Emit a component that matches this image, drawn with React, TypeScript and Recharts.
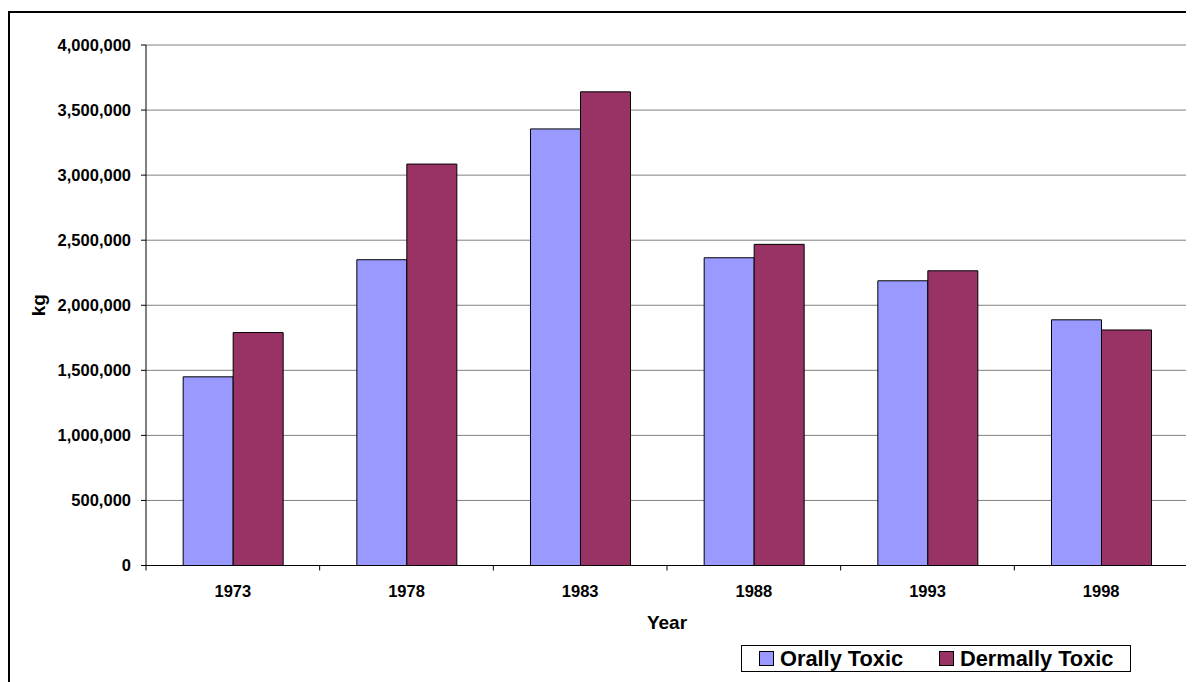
import React from "react";
import { BarChart, Bar, XAxis, YAxis, CartesianGrid, Legend } from "recharts";

const YEARS = ["1973", "1978", "1983", "1988", "1993", "1998"];
const ORALLY = [1450000, 2350000, 3355000, 2365000, 2188000, 1888000];
const DERMALLY = [1790000, 3085000, 3640000, 2468000, 2265000, 1810000];
const Y_TICKS = [0, 500000, 1000000, 1500000, 2000000, 2500000, 3000000, 3500000, 4000000];
const SERIES_NAMES = ["Orally Toxic", "Dermally Toxic"];
const COLORS = ["#9999FF", "#993366"];

const data = YEARS.map((year, i) => ({ year, orally: ORALLY[i], dermally: DERMALLY[i] }));

const FONT = '"Liberation Sans", Arial, sans-serif';

const XTick = (props: any) => {
  const { x, y, payload, index } = props;
  const half = payload && typeof payload.offset === "number" ? payload.offset : 0;
  return (
    <g>
      <line x1={x - half} x2={x - half} y1={y} y2={y + 5} stroke="#000" />
      {index === YEARS.length - 1 ? (
        <line x1={x + half} x2={x + half} y1={y} y2={y + 5} stroke="#000" />
      ) : null}
      <text x={x} y={y + 31.5} textAnchor="middle" fontFamily={FONT} fontWeight="bold" fontSize={16.5} fill="#000">
        {payload.value}
      </text>
    </g>
  );
};

const LegendContent = () => (
  <div
    style={{
      boxSizing: "border-box",
      width: 390,
      height: 27,
      border: "1px solid #000",
      background: "#fff",
      display: "flex",
      alignItems: "center",
      fontFamily: FONT,
      fontWeight: "bold",
      fontSize: 21.8,
      color: "#000",
      paddingLeft: 17,
    }}
  >
    {SERIES_NAMES.map((name, i) => (
      <div key={name} style={{ display: "flex", alignItems: "center", width: i === 0 ? 180 : undefined }}>
        <span
          style={{
            display: "inline-block",
            boxSizing: "border-box",
            width: 15,
            height: 15,
            background: COLORS[i],
            border: "1px solid #000",
            marginRight: 6,
          }}
        />
        <span style={{ lineHeight: "25px" }}>{name}</span>
      </div>
    ))}
  </div>
);

export default function App() {
  return (
    <div style={{ position: "relative", width: 1186, height: 674, overflow: "hidden", background: "#fff" }}>
      <div
        style={{
          position: "absolute",
          left: 0,
          top: 3,
          width: 1300,
          height: 800,
          border: "2px solid #000",
        }}
      />
      <div style={{ position: "absolute", left: 0, top: 0 }}>
        <BarChart
          width={1186}
          height={674}
          data={data}
          margin={{ top: 37, right: 6, left: 38, bottom: 59.5 }}
          barCategoryGap="21.4%"
          barGap={0}
        >
          <CartesianGrid vertical={false} stroke="#808080" strokeWidth={1} />
          <XAxis
            dataKey="year"
            height={30}
            tickLine={false}
            tickSize={0}
            tickMargin={0}
            axisLine={{ stroke: "#000" }}
            tick={<XTick />}
            interval={0}
            label={{
              content: (p: any) => (
                <text
                  x={p.viewBox.x + p.viewBox.width / 2}
                  y={p.viewBox.y + 63.5}
                  textAnchor="middle"
                  fontFamily={FONT}
                  fontWeight="bold"
                  fontSize={19}
                  fill="#000"
                >
                  Year
                </text>
              ),
            }}
          />
          <YAxis
            width={100}
            domain={[0, 4000000]}
            ticks={Y_TICKS}
            interval={0}
            tickSize={5}
            tickMargin={10}
            axisLine={{ stroke: "#000" }}
            tickLine={{ stroke: "#000" }}
            tick={{ fontFamily: FONT, fontWeight: "bold", fontSize: 16.5, fill: "#000" }}
            tickFormatter={(v: number) => v.toLocaleString("en-US")}
            label={{
              content: (p: any) => {
                const cx = p.viewBox.x - 8;
                const cy = p.viewBox.y + p.viewBox.height / 2;
                return (
                  <text
                    x={cx}
                    y={cy}
                    transform={`rotate(-90 ${cx} ${cy})`}
                    textAnchor="middle"
                    dominantBaseline="central"
                    fontFamily={FONT}
                    fontWeight="bold"
                    fontSize={19}
                    fill="#000"
                  >
                    kg
                  </text>
                );
              },
            }}
          />
          <YAxis
            yAxisId="r"
            orientation="right"
            width={0}
            domain={[0, 4000000]}
            tick={false}
            tickLine={false}
            axisLine={{ stroke: "#808080" }}
          />
          <Legend
            content={<LegendContent />}
            wrapperStyle={{ position: "absolute", left: 733, top: 637, width: 390, height: 27 }}
          />
          <Bar dataKey="orally" name={SERIES_NAMES[0]} fill={COLORS[0]} stroke="#000" strokeWidth={1} isAnimationActive={false} />
          <Bar dataKey="dermally" name={SERIES_NAMES[1]} fill={COLORS[1]} stroke="#000" strokeWidth={1} isAnimationActive={false} />
        </BarChart>
      </div>
    </div>
  );
}
